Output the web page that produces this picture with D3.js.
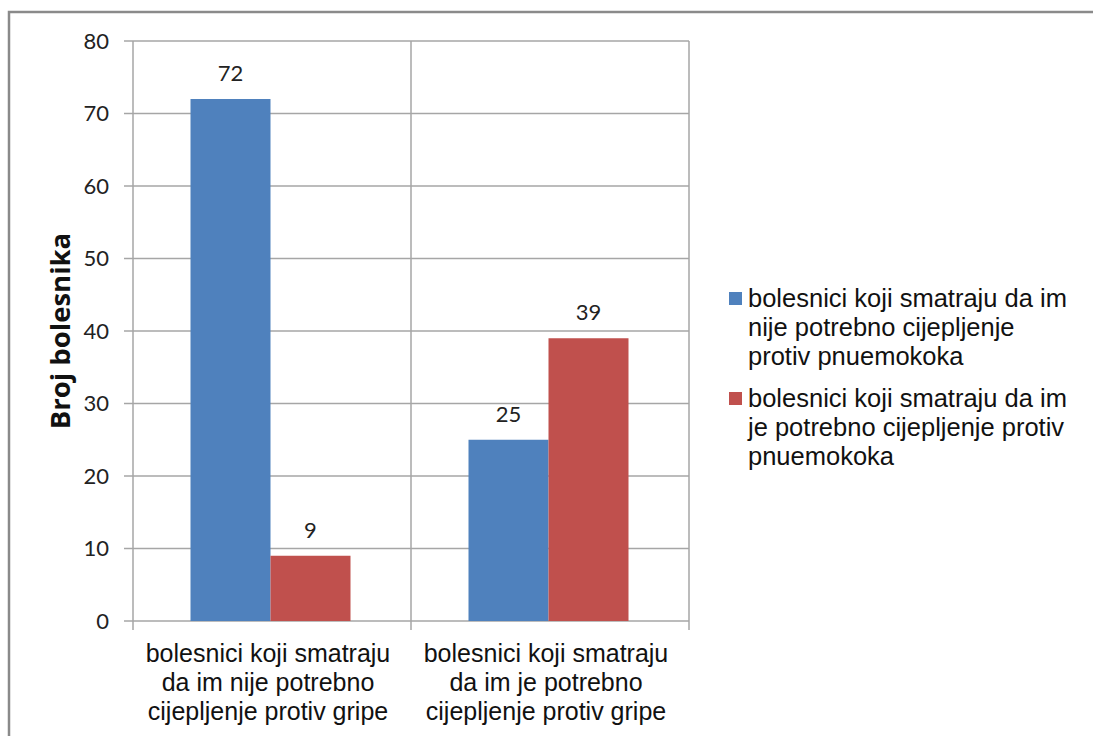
<!DOCTYPE html>
<html>
<head>
<meta charset="utf-8">
<script src="https://cdn.jsdelivr.net/npm/d3@7"></script>
<style>
    body { margin: 0; background: #fff; }
    svg { display: block; }
</style>
</head>
<body>
<svg width="1093" height="736"></svg>
<script>
// chart data
var categories = [
    ["bolesnici koji smatraju", "da im nije potrebno", "cijepljenje protiv gripe"],
    ["bolesnici koji smatraju", "da im je potrebno", "cijepljenje protiv gripe"]
];
var seriesNames = [
    ["bolesnici koji smatraju da im", "nije potrebno cijepljenje", "protiv pnuemokoka"],
    ["bolesnici koji smatraju da im", "je potrebno cijepljenje protiv", "pnuemokoka"]
];
var seriesA = [72, 25];
var seriesB = [9, 39];
var yTicks = [0, 10, 20, 30, 40, 50, 60, 70, 80];
var colors = ["#4f81bd", "#c0504d"];

var svg = d3.select("svg");

// outer frame (runs off the right and bottom edge)
svg.append("path")
    .attr("d", "M9,740 L9,12 L1100,12")
    .attr("fill", "none")
    .attr("stroke", "#8a8a8a")
    .attr("stroke-width", 2.5);

var plotLeft = 133, plotRight = 689, plotTop = 41, plotBottom = 621;

var y = d3.scaleLinear().domain([0, 80]).range([plotBottom, plotTop]);
var x0 = d3.scaleBand().domain([0, 1]).range([plotLeft, plotRight]);
var x1 = d3.scaleBand().domain([0, 1]).range([0, 160]);

var grid = "#a6a6a6";

// horizontal gridlines
svg.append("g").selectAll("line")
    .data(yTicks)
    .enter().append("line")
    .attr("x1", plotLeft - 9).attr("x2", plotRight)
    .attr("y1", function(d) { return y(d); })
    .attr("y2", function(d) { return y(d); })
    .attr("stroke", grid).attr("stroke-width", 1.5);

// vertical lines at category boundaries
svg.append("g").selectAll("line")
    .data([plotLeft, x0(1), plotRight])
    .enter().append("line")
    .attr("x1", function(d) { return d; })
    .attr("x2", function(d) { return d; })
    .attr("y1", plotTop)
    .attr("y2", plotBottom + 9)
    .attr("stroke", grid).attr("stroke-width", 1.5);

// y tick labels
svg.append("g").selectAll("text")
    .data(yTicks)
    .enter().append("text")
    .attr("x", 109)
    .attr("y", function(d) { return y(d); })
    .attr("dy", "0.36em")
    .attr("text-anchor", "end")
    .attr("font-family", "Lato, 'Open Sans', sans-serif")
    .attr("font-size", 22)
    .attr("fill", "#222")
    .text(function(d) { return d; });

// y axis title
svg.append("text")
    .attr("transform", "translate(70,331) rotate(-90)")
    .attr("text-anchor", "middle")
    .attr("font-family", "'Open Sans', Lato, sans-serif")
    .attr("font-weight", "bold")
    .attr("font-size", 27.5)
    .attr("fill", "#111")
    .text("Broj bolesnika");

// bars
var series = [seriesA, seriesB];
var groups = svg.append("g").selectAll("g")
    .data(categories)
    .enter().append("g")
    .attr("transform", function(d, i) {
        return "translate(" + (x0(i) + (x0.bandwidth() - 160) / 2 - 1.5) + ",0)";
    });

function pairs(d, i) {
    return series.map(function(s, k) { return {k: k, v: s[i]}; });
}

groups.selectAll("rect")
    .data(pairs)
    .enter().append("rect")
    .attr("x", function(d) { return x1(d.k); })
    .attr("y", function(d) { return y(d.v); })
    .attr("width", x1.bandwidth())
    .attr("height", function(d) { return y(0) - y(d.v); })
    .attr("fill", function(d) { return colors[d.k]; });

groups.selectAll("text.val")
    .data(pairs)
    .enter().append("text")
    .attr("class", "val")
    .attr("x", function(d) { return x1(d.k) + x1.bandwidth() / 2; })
    .attr("y", function(d) { return y(d.v) - 18; })
    .attr("text-anchor", "middle")
    .attr("font-family", "Lato, 'Open Sans', sans-serif")
    .attr("font-size", 22)
    .attr("fill", "#222")
    .text(function(d) { return d.v; });

// category labels
var catLabels = svg.append("g").selectAll("text")
    .data(categories)
    .enter().append("text")
    .attr("x", function(d, i) { return x0(i) + x0.bandwidth() / 2 - 4; })
    .attr("y", 662)
    .attr("text-anchor", "middle")
    .attr("font-family", "'Liberation Sans', Arial, sans-serif")
    .attr("font-size", 25)
    .attr("fill", "#111");

catLabels.selectAll("tspan")
    .data(function(d) { return d; })
    .enter().append("tspan")
    .attr("x", function() { return d3.select(this.parentNode).attr("x"); })
    .attr("dy", function(d, i) { return i ? 29 : 0; })
    .text(function(d) { return d; });

// legend
var legend = svg.append("g").selectAll("g")
    .data(seriesNames)
    .enter().append("g")
    .attr("transform", function(d, i) { return "translate(729," + (307 + i * 100) + ")"; });

legend.append("rect")
    .attr("x", 0).attr("y", -15)
    .attr("width", 13).attr("height", 13)
    .attr("fill", function(d, i) { return colors[i]; });

legend.append("text")
    .attr("font-family", "'Liberation Sans', Arial, sans-serif")
    .attr("font-size", 25.5)
    .attr("fill", "#111")
    .selectAll("tspan")
    .data(function(d) { return d; })
    .enter().append("tspan")
    .attr("x", 19)
    .attr("dy", function(d, i) { return i ? 29 : 0; })
    .text(function(d) { return d; });
</script>
</body>
</html>
